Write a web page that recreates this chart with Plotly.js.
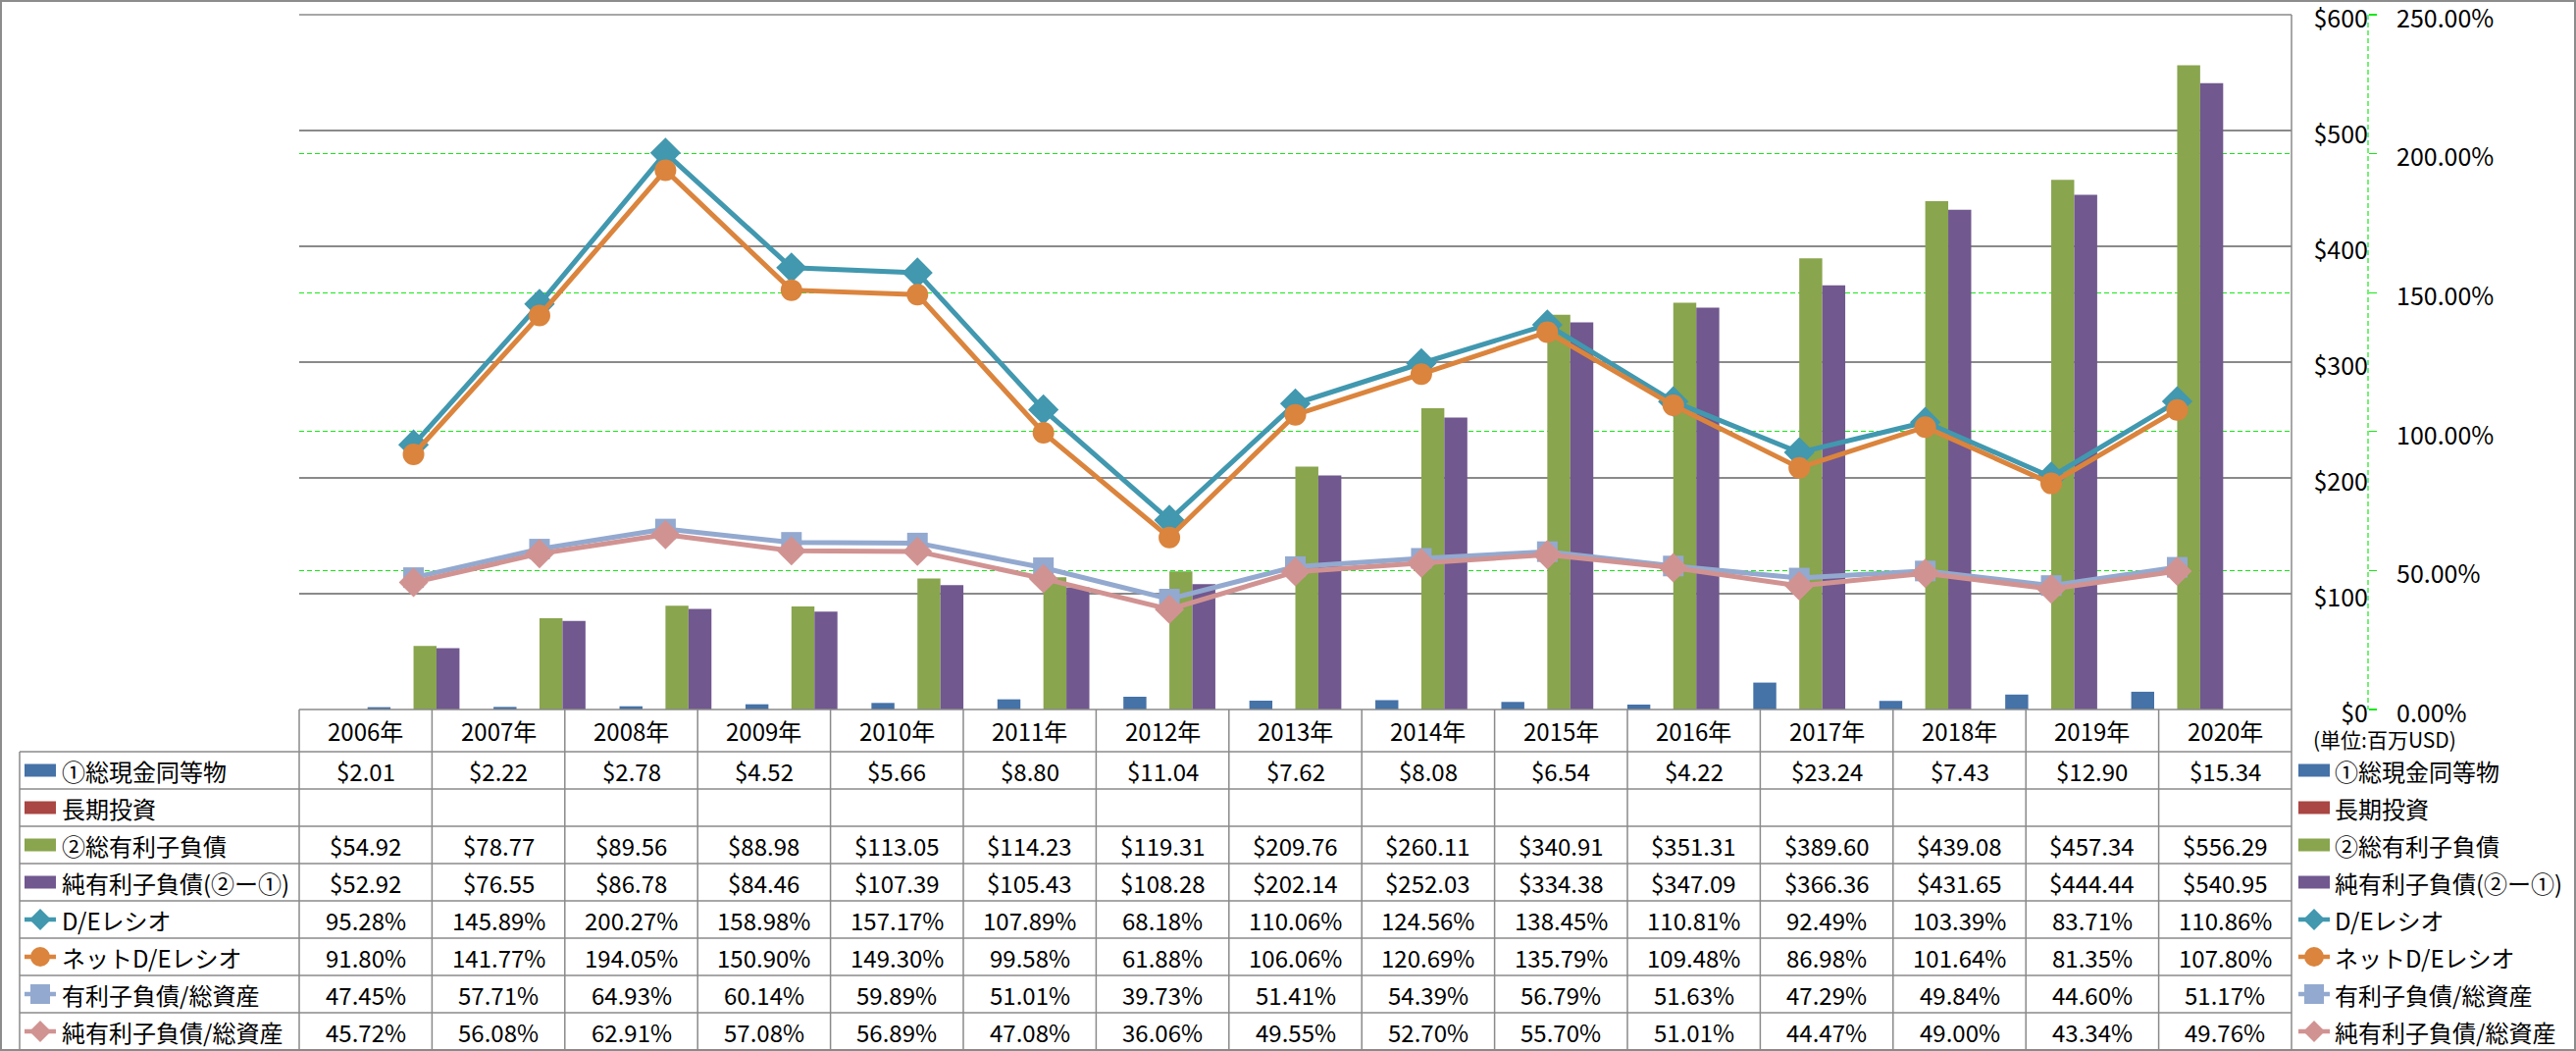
<!DOCTYPE html>
<html>
<head>
<meta charset="utf-8">
<script src="https://cdn.plot.ly/plotly-3.0.1.min.js"></script>
<style>html,body{margin:0;padding:0;background:#fff;}#chart{width:2626px;height:1071px;}</style>
</head>
<body>
<div id="chart"></div>
<script>
// ---------- data ----------
const years = ['2006年','2007年','2008年','2009年','2010年','2011年','2012年','2013年','2014年','2015年','2016年','2017年','2018年','2019年','2020年'];
const cashEq = [2.01, 2.22, 2.78, 4.52, 5.66, 8.80, 11.04, 7.62, 8.08, 6.54, 4.22, 23.24, 7.43, 12.90, 15.34];
const longTermInv = [null, null, null, null, null, null, null, null, null, null, null, null, null, null, null];
const totalDebt = [54.92, 78.77, 89.56, 88.98, 113.05, 114.23, 119.31, 209.76, 260.11, 340.91, 351.31, 389.60, 439.08, 457.34, 556.29];
const netDebt = [52.92, 76.55, 86.78, 84.46, 107.39, 105.43, 108.28, 202.14, 252.03, 334.38, 347.09, 366.36, 431.65, 444.44, 540.95];
const deRatio = [95.28, 145.89, 200.27, 158.98, 157.17, 107.89, 68.18, 110.06, 124.56, 138.45, 110.81, 92.49, 103.39, 83.71, 110.86];
const netDeRatio = [91.80, 141.77, 194.05, 150.90, 149.30, 99.58, 61.88, 106.06, 120.69, 135.79, 109.48, 86.98, 101.64, 81.35, 107.80];
const debtToAssets = [47.45, 57.71, 64.93, 60.14, 59.89, 51.01, 39.73, 51.41, 54.39, 56.79, 51.63, 47.29, 49.84, 44.60, 51.17];
const netDebtToAssets = [45.72, 56.08, 62.91, 57.08, 56.89, 47.08, 36.06, 49.55, 52.70, 55.70, 51.01, 44.47, 49.00, 43.34, 49.76];
const seriesNames = ['①総現金同等物','長期投資','②総有利子負債','純有利子負債(②ー①)','D/Eレシオ','ネットD/Eレシオ','有利子負債/総資産','純有利子負債/総資産'];
const unitLabel = '(単位:百万USD)';

// ---------- styles ----------
const W = 2626, H = 1071;
const X = v => v / W;
const Y = v => 1 - v / H;
const plotL = 305, plotR = 2336, plotT = 15, plotB = 723;
const headB = 766, rowH = 38;
const tableL = 20;
const axisX = 2414;
const FONT = "'Liberation Sans Narrow', 'Noto Sans CJK JP', sans-serif";
const GRID = '#8a8a8a';
const GREEN = '#18e818';
const colors = ['#4572A7','#AA4643','#89A54E','#71588F','#4198AF','#DB843D','#93A9CF','#D19392'];
const kinds = ['bar','bar','bar','bar','diamond','circle','square','diamond'];

const barSeries = [cashEq, longTermInv, totalDebt, netDebt];
const lineSeries = [deRatio, netDeRatio, debtToAssets, netDebtToAssets];
const lineSymbols = ['diamond','circle','square','diamond'];
const lineMarkerSizes = [24, 22, 21, 23];

const traces = [];
barSeries.forEach((s, i) => {
  traces.push({type:'bar', name: seriesNames[i], x: years, y: s, marker:{color: colors[i]},
    xaxis:'x', yaxis:'y', showlegend:false, hoverinfo:'skip'});
});
lineSeries.forEach((s, i) => {
  traces.push({type:'scatter', mode:'lines+markers', name: seriesNames[4+i], x: years, y: s,
    line:{color: colors[4+i], width: 5},
    marker:{symbol: lineSymbols[i], size: lineMarkerSizes[i], color: colors[4+i], line:{width:0}},
    xaxis:'x', yaxis:'y2', showlegend:false, hoverinfo:'skip'});
});

// ---------- table / frame shapes ----------
const shapes = [];
const annotations = [];
const hline = (x0, x1, y, color, width, dash) => shapes.push({type:'line', xref:'paper', yref:'paper', x0:X(x0), x1:X(x1), y0:Y(y), y1:Y(y), line:{color, width, dash: dash || 'solid'}});
const vline = (x, y0, y1, color, width, dash) => shapes.push({type:'line', xref:'paper', yref:'paper', x0:X(x), x1:X(x), y0:Y(y0), y1:Y(y1), line:{color, width, dash: dash || 'solid'}});

// outer border
shapes.push({type:'rect', xref:'paper', yref:'paper', x0:X(1), x1:X(2625), y0:Y(1), y1:Y(1070), line:{color:'#8c8c8c', width:2}, fillcolor:'rgba(0,0,0,0)'});
// top gridline cover and plot right edge
hline(plotL, plotR, plotT, GRID, 1.5);
vline(plotR, plotT, 1070, GRID, 1.5);
// secondary axis dashed line
vline(axisX, plotT, plotB, GREEN, 1.2, '5px,3px');

const nCols = years.length;
const colW = (plotR - plotL) / nCols;
hline(plotL, plotR, plotB, GRID, 1.5);
const nRows = seriesNames.length;
for (let k = 0; k <= nRows; k++) hline(tableL, plotR, headB + rowH * k, GRID, 1.5);
vline(tableL, headB, headB + rowH * nRows, GRID, 1.5);
for (let j = 0; j < nCols; j++) vline(plotL + colW * j, plotB, headB + rowH * nRows, GRID, 1.5);

// header years
years.forEach((yr, j) => {
  annotations.push({xref:'paper', yref:'paper', x:X(plotL + colW * (j + 0.5)), y:Y((plotB + headB) / 2),
    text: yr, showarrow:false, xanchor:'center', yanchor:'middle', font:{family:FONT, size:24, color:'#000'}});
});

// cell values
const fmtMoney = v => '$' + v.toFixed(2);
const fmtPct = v => v.toFixed(2) + '%';
const rowData = [cashEq, longTermInv, totalDebt, netDebt, deRatio, netDeRatio, debtToAssets, netDebtToAssets];
rowData.forEach((arr, r) => {
  const cy = headB + rowH * r + rowH / 2;
  arr.forEach((v, j) => {
    if (v === null || v === undefined) return;
    annotations.push({xref:'paper', yref:'paper', x:X(plotL + colW * (j + 0.5)), y:Y(cy),
      text: r < 4 ? fmtMoney(v) : fmtPct(v), showarrow:false, xanchor:'center', yanchor:'middle',
      font:{family:FONT, size:24, color:'#000'}});
  });
});

// legend keys (table left column and right legend)
function drawKey(x0, cy, i) {
  const x1 = x0 + 32, cx = x0 + 16;
  const c = colors[i];
  if (kinds[i] === 'bar') {
    shapes.push({type:'rect', xref:'paper', yref:'paper', x0:X(x0), x1:X(x1), y0:Y(cy - 6.5), y1:Y(cy + 6.5), line:{width:0}, fillcolor:c});
    return;
  }
  shapes.push({type:'line', xref:'paper', yref:'paper', x0:X(x0), x1:X(x1), y0:Y(cy), y1:Y(cy), line:{color:c, width:4.5}});
  if (kinds[i] === 'diamond') {
    const r = 11;
    shapes.push({type:'path', xref:'paper', yref:'paper', line:{width:0}, fillcolor:c,
      path:`M${X(cx - r)},${Y(cy)} L${X(cx)},${Y(cy - r)} L${X(cx + r)},${Y(cy)} L${X(cx)},${Y(cy + r)} Z`});
  } else if (kinds[i] === 'circle') {
    const r = 10;
    shapes.push({type:'circle', xref:'paper', yref:'paper', x0:X(cx - r), x1:X(cx + r), y0:Y(cy - r), y1:Y(cy + r), line:{width:0}, fillcolor:c});
  } else {
    const r = 10;
    shapes.push({type:'rect', xref:'paper', yref:'paper', x0:X(cx - r), x1:X(cx + r), y0:Y(cy - r), y1:Y(cy + r), line:{width:0}, fillcolor:c});
  }
}
seriesNames.forEach((nm, i) => {
  const cy = headB + rowH * i + rowH / 2;
  drawKey(25, cy, i);
  annotations.push({xref:'paper', yref:'paper', x:X(61), y:Y(cy), text:nm, showarrow:false, xanchor:'left', yanchor:'middle', font:{family:FONT, size:24, color:'#000'}});
  drawKey(2343, cy, i);
  annotations.push({xref:'paper', yref:'paper', x:X(2378), y:Y(cy), text:nm, showarrow:false, xanchor:'left', yanchor:'middle', font:{family:FONT, size:24, color:'#000'}});
});
annotations.push({xref:'paper', yref:'paper', x:X(2356), y:Y(753), text:unitLabel, showarrow:false, xanchor:'left', yanchor:'middle', font:{family:FONT, size:21, color:'#000'}});

const layout = {
  width: W, height: H,
  margin: {l:0, r:0, t:0, b:0, autoexpand:false},
  paper_bgcolor:'#fff', plot_bgcolor:'rgba(0,0,0,0)',
  barmode:'group', bargap:0.27, bargroupgap:0,
  showlegend:false,
  font:{family:FONT, size:24, color:'#000'},
  xaxis:{domain:[X(plotL), X(plotR)], type:'category', showticklabels:false, showgrid:false, zeroline:false, showline:false, ticks:'', fixedrange:true},
  yaxis:{domain:[Y(plotB), Y(plotT)], range:[0,600], dtick:100, tickprefix:'$', tickformat:'d',
    anchor:'free', position:X(axisX), side:'left', showline:false, zeroline:false,
    showgrid:true, gridcolor:GRID, gridwidth:1.5, ticks:'', ticklabeloverflow:'allow',
    tickfont:{family:FONT, size:25, color:'#000'}, ticklabelstandoff:0, ticklabelshift:4},
  yaxis2:{domain:[Y(plotB), Y(plotT)], range:[0,250], dtick:50, ticksuffix:'%', tickformat:'.2f',
    overlaying:'y', anchor:'free', position:X(axisX), side:'right', showline:false, zeroline:false,
    showgrid:true, gridcolor:GREEN, gridwidth:1.2, griddash:'5px,3px',
    ticks:'outside', ticklen:8, tickcolor:GREEN, tickwidth:1.2, ticklabelstandoff:15, ticklabeloverflow:'allow', ticklabelshift:4,
    tickfont:{family:FONT, size:25, color:'#000'}},
  shapes, annotations
};
Plotly.newPlot('chart', traces, layout, {displayModeBar:false, staticPlot:true});
</script>
</body>
</html>
